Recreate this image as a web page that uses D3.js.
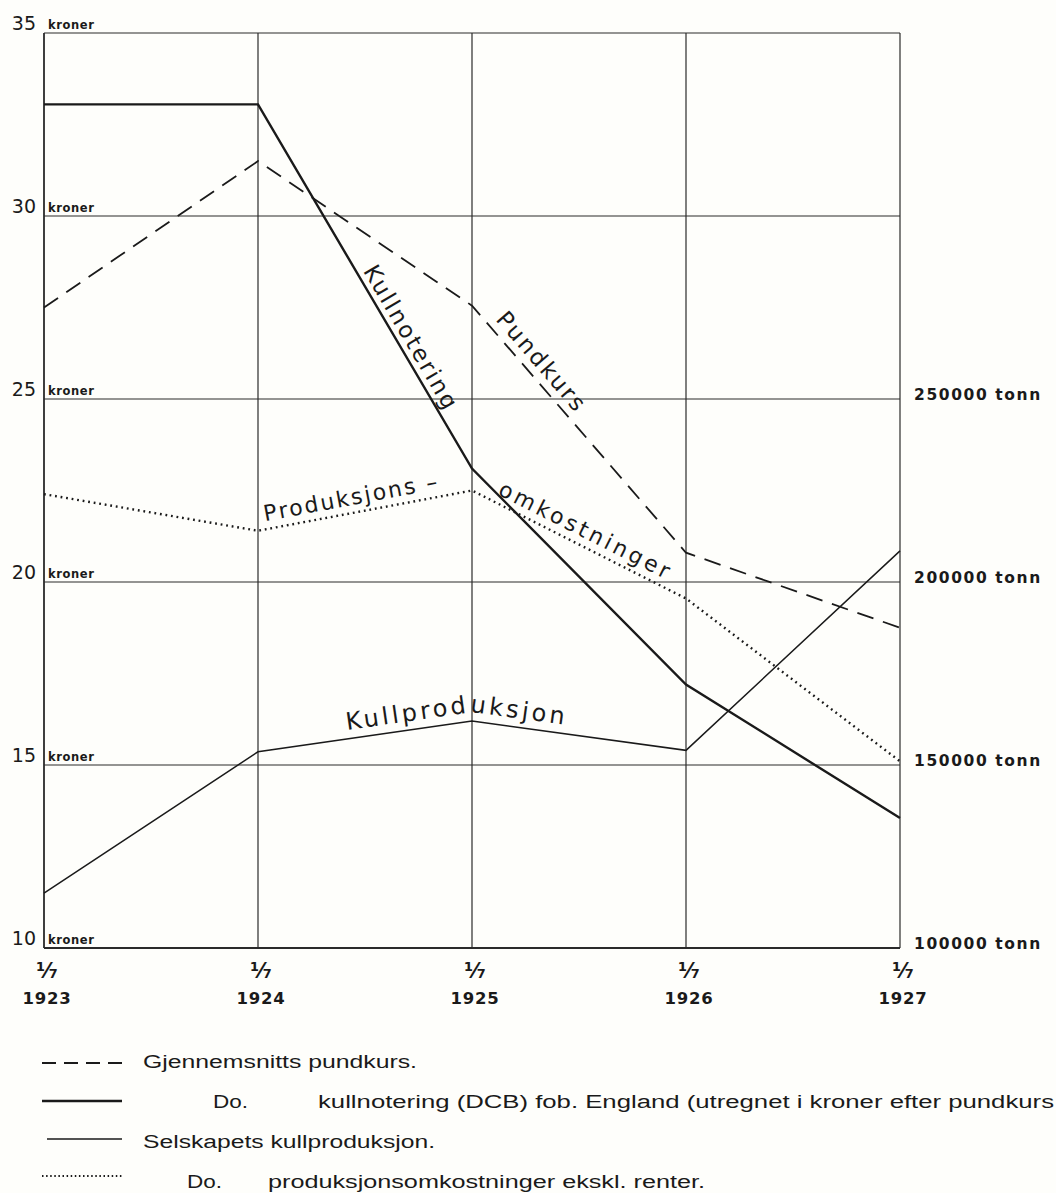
<!DOCTYPE html>
<html><head><meta charset="utf-8">
<script src="https://cdn.jsdelivr.net/npm/d3@7"></script>
<style>
html,body{margin:0;padding:0;background:#fefefb;}
svg{display:block;}
</style></head>
<body>
<svg id="c" width="1056" height="1193"></svg>
<script>
// ---- data ----
const years = [1923, 1924, 1925, 1926, 1927];
const pundkurs = [27.5, 31.5, 27.55, 20.8, 18.75];          // kroner
const kullnotering = [33.05, 33.05, 23.1, 17.2, 13.55];      // kroner
const produksjonsomk = [22.4, 21.4, 22.5, 19.55, 15.1];      // kroner
const kullproduksjon = [115000, 153600, 162000, 154000, 208500]; // tonn
const leftTicks = [10, 15, 20, 25, 30, 35];
const rightTicks = [100000, 150000, 200000, 250000];
const rightTickLabels = ["100000 tonn", "150000 tonn", "200000 tonn", "250000 tonn"];
const xTickTop = "¹⁄₇";
const legendItems = [
  {key: "dash", pre: "", text: "Gjennemsnitts pundkurs."},
  {key: "thick", pre: "Do.", text: "kullnotering (DCB) fob. England (utregnet i kroner efter pundkurs"},
  {key: "thin", pre: "", text: "Selskapets kullproduksjon."},
  {key: "dot", pre: "Do.", text: "produksjonsomkostninger ekskl. renter."}
];

// ---- layout ----
const svg = d3.select("#c");
const X0 = 44, X1 = 900, Y0 = 33, Y1 = 948;
const x = d3.scaleLinear().domain([1923, 1927]).range([X0, X1]);
const y = d3.scaleLinear().domain([10, 35]).range([Y1, Y0]);
const yR = d3.scaleLinear().domain([100000, 350000]).range([Y1, Y0]);
const ink = "#1a1a1a";
const gridCol = "#2a2a2a";

// grid
const g = svg.append("g");
g.selectAll("line.h").data(leftTicks).join("line")
  .attr("x1", X0).attr("x2", X1)
  .attr("y1", d => y(d)).attr("y2", d => y(d))
  .attr("stroke", gridCol).attr("stroke-width", d => d === 10 ? 1.8 : 1.2);
g.selectAll("line.v").data(years).join("line")
  .attr("x1", d => x(d)).attr("x2", d => x(d))
  .attr("y1", Y0).attr("y2", Y1)
  .attr("stroke", gridCol).attr("stroke-width", d => d === 1923 ? 1.8 : 1.2);

// left tick labels
const lt = svg.append("g").attr("fill", ink);
lt.selectAll("text.n").data(leftTicks).join("text")
  .attr("x", 36).attr("y", d => y(d) - 3)
  .attr("text-anchor", "end")
  .attr("font-family", "'DejaVu Sans', sans-serif").attr("font-size", 19)
  .text(d => d);
lt.selectAll("text.k").data(leftTicks).join("text")
  .attr("x", 48).attr("y", d => y(d) - 4)
  .attr("font-family", "'DejaVu Sans', sans-serif").attr("font-size", 11.5)
  .attr("font-weight", "bold").attr("letter-spacing", 0.6)
  .text("kroner");

// right tick labels
svg.append("g").selectAll("text").data(rightTicks).join("text")
  .attr("x", 914).attr("y", d => yR(d) + 1)
  .attr("font-family", "'DejaVu Sans', sans-serif").attr("font-size", 15.5)
  .attr("font-weight", "bold").attr("letter-spacing", 1.6).attr("fill", ink)
  .text((d, i) => rightTickLabels[i]);

// x tick labels
const xt = svg.append("g").attr("fill", ink).attr("font-family", "'DejaVu Sans', sans-serif")
  .attr("font-weight", "bold").attr("text-anchor", "middle");
xt.selectAll("text.f").data(years).join("text")
  .attr("x", d => x(d) + 3).attr("y", 978).attr("font-size", 21).text(xTickTop);
xt.selectAll("text.y").data(years).join("text")
  .attr("x", d => x(d) + 3).attr("y", 1004).attr("font-size", 16.5).attr("letter-spacing", 0.8)
  .text(d => d);

// lines
const lineK = d3.line().x((d, i) => x(years[i])).y(d => y(d));
const lineT = d3.line().x((d, i) => x(years[i])).y(d => yR(d));
svg.append("path").attr("d", lineK(pundkurs)).attr("fill", "none")
  .attr("stroke", ink).attr("stroke-width", 1.8).attr("stroke-dasharray", "17,10");
svg.append("path").attr("d", lineK(kullnotering)).attr("fill", "none")
  .attr("stroke", ink).attr("stroke-width", 2.4);
svg.append("path").attr("d", lineK(produksjonsomk)).attr("fill", "none")
  .attr("stroke", ink).attr("stroke-width", 2.4).attr("stroke-dasharray", "1.8,3.8");
svg.append("path").attr("d", lineT(kullproduksjon)).attr("fill", "none")
  .attr("stroke", ink).attr("stroke-width", 1.5);

// inline labels (positioned from data)
const lblFont = "'DejaVu Sans', sans-serif";
function segLabel(arr, scale, i0, t, off, text, size, ls) {
  const xa = x(years[i0]), ya = scale(arr[i0]);
  const xb = x(years[i0 + 1]), yb = scale(arr[i0 + 1]);
  const ang = Math.atan2(yb - ya, xb - xa) * 180 / Math.PI;
  const px = xa + (xb - xa) * t, py = ya + (yb - ya) * t;
  svg.append("text")
    .attr("transform", `translate(${px},${py}) rotate(${ang}) translate(0,${off})`)
    .attr("text-anchor", "middle").attr("font-family", lblFont)
    .attr("font-size", size).attr("letter-spacing", ls).attr("fill", ink)
    .text(text);
}
segLabel(kullnotering, y, 1, 0.66, -6, "Kullnotering", 23, 2.2);
segLabel(pundkurs, y, 2, 0.27, -8, "Pundkurs", 23, 2.4);
segLabel(produksjonsomk, y, 1, 0.45, -8, "Produksjons –", 22, 2.2);
segLabel(produksjonsomk, y, 2, 0.5, -8, "omkostninger", 22, 3.4);

// curved label for Kullproduksjon
const offPath = d3.line().x((d, i) => x(years[i + 1])).y(d => yR(d) - 9);
svg.append("path").attr("id", "kp").attr("d", offPath(kullproduksjon.slice(1, 4)))
  .attr("fill", "none").attr("stroke", "none");
svg.append("text").attr("font-family", lblFont).attr("font-size", 24)
  .attr("letter-spacing", 3.3).attr("fill", ink)
  .append("textPath").attr("href", "#kp").attr("startOffset", 90)
  .text("Kullproduksjon");

// legend
const lg = svg.append("g");
const legLineY = [1063, 1101, 1139, 1176];
const legTextY = [1068, 1108, 1148, 1188];
const legFont = "'Liberation Sans', 'DejaVu Sans', sans-serif";
const textX = [143, 318, 143, 268];
const textW = [274, 736, 292, 437];
const preX = [0, 213, 0, 187];
const preW = [0, 35, 0, 35];
legendItems.forEach((it, i) => {
  const ly = legLineY[i];
  const ln = lg.append("line").attr("x1", 42).attr("x2", 122)
    .attr("y1", ly).attr("y2", ly).attr("stroke", ink);
  if (it.key === "dash") ln.attr("stroke-width", 1.8).attr("stroke-dasharray", "14,8");
  if (it.key === "thick") ln.attr("stroke-width", 2.6);
  if (it.key === "thin") ln.attr("stroke-width", 1.4).attr("x1", 47);
  if (it.key === "dot") ln.attr("stroke-width", 2).attr("stroke-dasharray", "1.5,2.6");
  if (it.pre) {
    lg.append("text").attr("x", preX[i]).attr("y", legTextY[i])
      .attr("font-family", legFont).attr("font-size", 18).attr("fill", ink)
      .attr("textLength", preW[i]).attr("lengthAdjust", "spacingAndGlyphs")
      .text(it.pre);
  }
  lg.append("text").attr("x", textX[i]).attr("y", legTextY[i])
    .attr("font-family", legFont).attr("font-size", 18).attr("fill", ink)
    .attr("textLength", textW[i]).attr("lengthAdjust", "spacingAndGlyphs")
    .text(it.text);
});
</script>
</body></html>
